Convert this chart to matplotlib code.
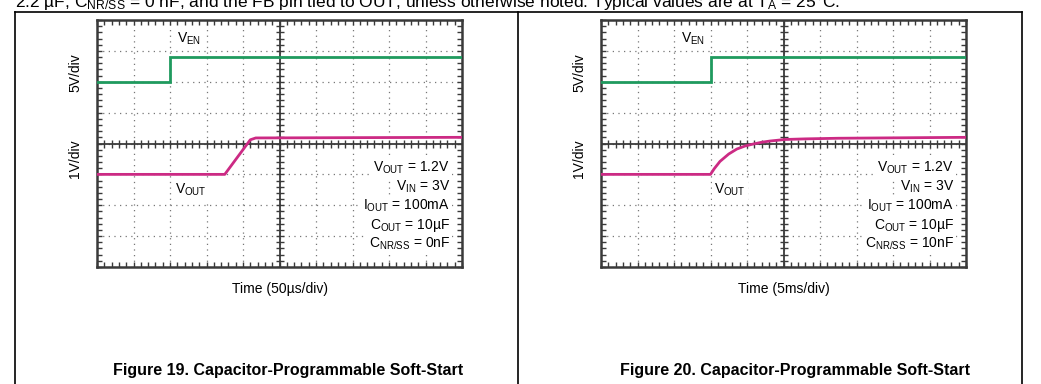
import numpy as np
import matplotlib
matplotlib.use("Agg")
import matplotlib.pyplot as plt
from matplotlib.lines import Line2D

plt.rcParams['font.family'] = ['Liberation Sans', 'DejaVu Sans']
plt.rcParams['mathtext.fontset'] = 'custom'
plt.rcParams['mathtext.rm'] = 'Liberation Sans'
plt.rcParams['mathtext.it'] = 'Liberation Sans'

# Scope traces in divisions (x: 0-10, y: 0-8)
ven_t_19 = [0.0, 2.0, 2.0, 10.0]
ven_v_19 = [6.0, 6.0, 6.8, 6.8]
vout_t_19 = [0.0, 3.5, 4.2, 4.35, 10.0]
vout_v_19 = [3.0, 3.0, 4.12, 4.18, 4.2]

ven_t_20 = [0.0, 3.0, 3.0, 10.0]
ven_v_20 = [6.0, 6.0, 6.8, 6.8]
vout_t_20 = [0.0, 3.0, 3.1, 3.26, 3.5, 3.72, 3.95, 4.16, 4.4, 4.63, 5.04, 5.6, 6.5, 10.0]
vout_v_20 = [3.0, 3.0, 3.18, 3.42, 3.66, 3.82, 3.92, 3.98, 4.04, 4.08, 4.13, 4.15, 4.17, 4.2]

x_labels = ["Time (50\u00b5s/div)", "Time (5ms/div)"]
captions = ["Figure 19. Capacitor-Programmable Soft-Start",
            "Figure 20. Capacitor-Programmable Soft-Start"]
cnr_values = ["0nF", "10nF"]
vout_label_x = [2.15, 3.1]

green = "#1f9a5e"
magenta = "#cc2a84"
frame = "#3a3a3a"

fig = plt.figure(figsize=(10.41, 3.84), dpi=100)

# page frame
for x in [15, 518, 1022]:
    fig.add_artist(Line2D([x / 1041, x / 1041], [0, 1 - 12 / 384], color="black", lw=1.2))
fig.add_artist(Line2D([15 / 1041, 1022 / 1041], [1 - 12 / 384, 1 - 12 / 384], color="black", lw=1.2))

fig.text(15 / 1041, 1 - 7 / 384,
         "2.2 \u00b5F, C$_{\\mathrm{NR/SS}}$ = 0 nF, and the FB pin tied to OUT, unless otherwise noted. "
         "Typical values are at T$_{\\mathrm{A}}$ = 25\u00b0C.",
         fontsize=12.5, va='baseline', ha='left')

lefts = [97 / 1041, 601 / 1041]
traces = [(ven_t_19, ven_v_19, vout_t_19, vout_v_19),
          (ven_t_20, ven_v_20, vout_t_20, vout_v_20)]

for i in range(2):
    ax = fig.add_axes([lefts[i], (384 - 267) / 384, 365 / 1041, 247 / 384])
    ven_t, ven_v, vout_t, vout_v = traces[i]

    ax.set_xlim(0, 10)
    ax.set_ylim(0, 8)
    ax.set_xticks(np.arange(0, 11, 1))
    ax.set_yticks(np.arange(0, 9, 1))
    ax.set_xticks(np.arange(0, 10.01, 0.2), minor=True)
    ax.set_yticks(np.arange(0, 8.01, 0.2), minor=True)
    ax.tick_params(which='both', direction='in', top=True, right=True,
                   labelbottom=False, labelleft=False, color=frame, width=1)
    ax.tick_params(which='major', length=3.5)
    ax.tick_params(which='minor', length=3.5)
    for s in ax.spines.values():
        s.set_color(frame)
        s.set_linewidth(1.8)

    ax.grid(which='major', linestyle=(0, (1, 3.5)), color="#777777", lw=0.9)
    ax.axvline(5, color=frame, lw=1.3)
    ax.axhline(4, color=frame, lw=1.3)
    ax.plot(np.arange(0, 10.01, 0.2), np.full(51, 4.0), ls='none', marker='|',
            ms=6, mew=1, color=frame)
    ax.plot(np.full(41, 5.0), np.arange(0, 8.01, 0.2), ls='none', marker='_',
            ms=6, mew=1, color=frame)

    ax.plot(ven_t, ven_v, color=green, lw=2, solid_joinstyle='miter', zorder=5)
    ax.plot(vout_t, vout_v, color=magenta, lw=2, zorder=5)

    box = dict(facecolor='white', edgecolor='none', pad=1.5)
    ax.text(2.2, 7.4, r"V$_{\mathrm{EN}}$", fontsize=10, ha='left', va='center', bbox=box, zorder=6)
    ax.text(vout_label_x[i], 2.5, r"V$_{\mathrm{OUT}}$", fontsize=10, ha='left', va='center',
            bbox=box, zorder=6)

    notes = [r"V$_{\mathrm{OUT}}$ = 1.2V",
             r"V$_{\mathrm{IN}}$ = 3V",
             r"I$_{\mathrm{OUT}}$ = 100mA",
             "C$_{\\mathrm{OUT}}$ = 10\u00b5F",
             "C$_{\\mathrm{NR/SS}}$ = " + cnr_values[i]]
    for k, note in enumerate(notes):
        ax.text(9.67, 3.2 - k * 0.615, note, fontsize=10, ha='right', va='center',
                bbox=box, zorder=6)

    ax.text(-0.6, 6.3, "5V/div", rotation=90, fontsize=10, ha='center', va='center', clip_on=False)
    ax.text(-0.6, 3.5, "1V/div", rotation=90, fontsize=10, ha='center', va='center', clip_on=False)

    ax.set_xlabel(x_labels[i], fontsize=10, labelpad=11)

    fig.text([288 / 1041, 795 / 1041][i], 14 / 384, captions[i], fontsize=11.5, fontweight='bold',
             ha='center', va='center')

fig.savefig("out.png", dpi=100)
